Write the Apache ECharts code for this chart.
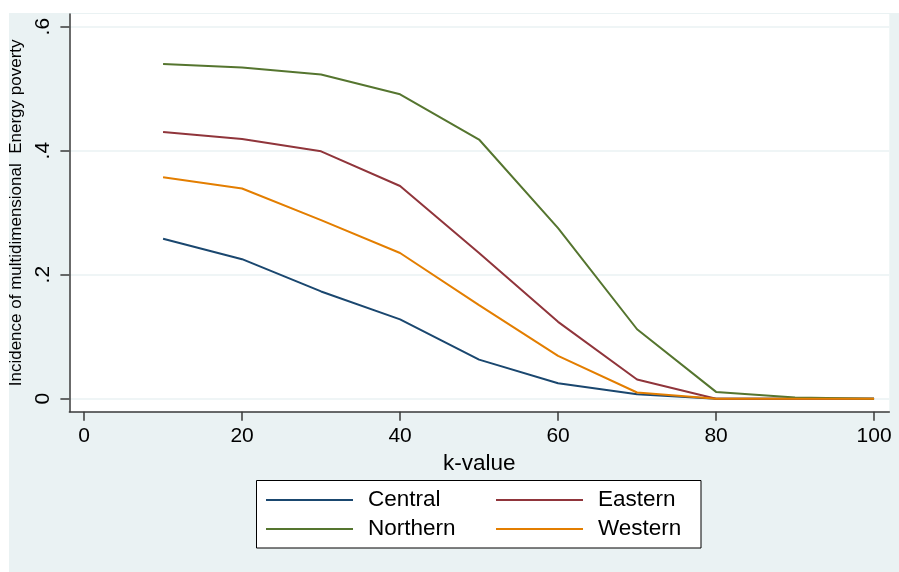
<!DOCTYPE html>
<html>
<head>
<meta charset="utf-8">
<script src="https://cdn.jsdelivr.net/npm/echarts@6/dist/echarts.min.js"></script>
<style>
  html, body { margin: 0; padding: 0; background: #ffffff; }
  #bg { position: absolute; left: 9px; top: 13px; width: 890px; height: 559px; background: #EAF2F3; }
  #chart { position: absolute; left: 0; top: 0; width: 899px; height: 572px; }
</style>
</head>
<body>
<div id="bg"></div>
<div id="chart"></div>
<script>
const kValues = [10, 20, 30, 40, 50, 60, 70, 80, 90, 100];
const central  = [0.258, 0.225, 0.173, 0.128, 0.063, 0.025, 0.007, 0.000, 0.000, 0.000];
const eastern  = [0.430, 0.419, 0.399, 0.343, 0.235, 0.124, 0.031, 0.000, 0.000, 0.000];
const northern = [0.540, 0.534, 0.523, 0.491, 0.418, 0.275, 0.112, 0.011, 0.002, 0.000];
const western  = [0.357, 0.339, 0.288, 0.235, 0.151, 0.069, 0.010, 0.000, 0.000, 0.000];
const xTicks = [0, 20, 40, 60, 80, 100];
const yTicks = [0, 0.2, 0.4, 0.6];
const seriesNames = ['Central', 'Eastern', 'Northern', 'Western'];
const seriesValues = [central, eastern, northern, western];
const colors = ['#1A476F', '#90353B', '#55752F', '#E37E00'];

const FONT = 'Liberation Sans, Arial, Helvetica, sans-serif';
const chart = echarts.init(document.getElementById('chart'));

const series = seriesNames.map((name, i) => ({
  name: name,
  type: 'line',
  data: kValues.map((k, j) => [k, seriesValues[i][j]]),
  showSymbol: false,
  symbol: 'none',
  lineStyle: { color: colors[i], width: 2 },
  itemStyle: { color: colors[i] },
  animation: false
}));

const legendCommon = {
  icon: 'rect',
  itemWidth: 87,
  itemHeight: 2,
  itemGap: 18,
  padding: 0,
  left: 266,
  orient: 'horizontal',
  textStyle: { fontFamily: FONT, fontSize: 22.5, color: '#000', width: 110, padding: [0, 0, 0, 10], lineHeight: 24 }
};

chart.setOption({
  animation: false,
  color: colors,
  grid: {
    left: 68, right: 9.7, top: 14, bottom: 160.3,
    show: true, backgroundColor: '#ffffff', borderWidth: 0
  },
  xAxis: {
    type: 'value',
    min: -1.858, max: 101.93,
    name: 'k-value',
    nameLocation: 'middle',
    nameGap: 31,
    nameTextStyle: { fontFamily: FONT, fontSize: 22.5, color: '#000' },
    axisLine: { show: true, onZero: false, lineStyle: { color: '#3a3a3a', width: 1.5 } },
    axisTick: { show: true, length: 9, customValues: xTicks, lineStyle: { color: '#3a3a3a', width: 1.5 } },
    axisLabel: { customValues: xTicks, margin: 14.5, fontFamily: FONT, fontSize: 21, color: '#000' },
    splitLine: { show: false }
  },
  yAxis: {
    type: 'value',
    min: -0.02097, max: 0.62048,
    name: 'Incidence of multidimensional  Energy poverty',
    nameLocation: 'middle',
    nameRotate: 90,
    nameGap: 40,
    nameTextStyle: { fontFamily: FONT, fontSize: 17, color: '#000' },
    axisLine: { show: true, onZero: false, lineStyle: { color: '#3a3a3a', width: 1.5 } },
    axisTick: { show: true, length: 9, customValues: yTicks, lineStyle: { color: '#3a3a3a', width: 1.5 } },
    axisLabel: {
      customValues: yTicks, rotate: 90, margin: 15.5,
      fontFamily: FONT, fontSize: 21, color: '#000',
      formatter: v => (Math.abs(v) < 1e-9 ? '0' : String(Math.round(v * 10) / 10).replace(/^0/, ''))
    },
    splitLine: { show: true, lineStyle: { color: '#EAF2F3', width: 1.5 } }
  },
  legend: [
    Object.assign({}, legendCommon, { top: 488, data: ['Central', 'Eastern'] }),
    Object.assign({}, legendCommon, { top: 517, data: ['Northern', 'Western'] })
  ],
  graphic: [{
    type: 'rect',
    shape: { x: 256.5, y: 480.5, width: 444.5, height: 67.5 },
    style: { fill: '#ffffff', stroke: '#000000', lineWidth: 1 },
    z: 1, silent: true
  }],
  series: series
});
</script>
</body>
</html>
